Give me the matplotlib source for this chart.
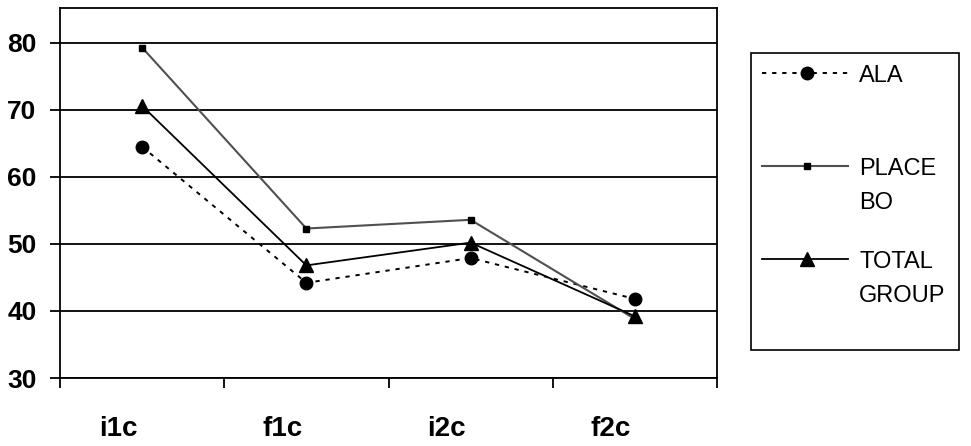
import matplotlib.pyplot as plt
import matplotlib.transforms as mtransforms
from matplotlib.lines import Line2D
from matplotlib.patches import Rectangle

# данные
categories = ["i1c", "f1c", "i2c", "f2c"]
ala = [64.5, 44.2, 47.9, 41.8]
placebo = [79.3, 52.3, 53.6, 38.8]
total = [70.6, 46.8, 50.2, 39.2]

plt.rcParams['font.family'] = ['Liberation Sans', 'DejaVu Sans']

fig = plt.figure(figsize=(9.71, 4.46), dpi=100)
ax = fig.add_axes([60 / 971, 1 - 378 / 446, 657 / 971, 370 / 446])

x = [i + 0.5 for i in range(len(categories))]

ala_style = dict(color="black", lw=1.4, ls=(0, (2.2, 3)), marker="o", ms=9)
placebo_style = dict(color="#505050", lw=1.5, marker="s", ms=5, mfc="black", mec="black")
total_style = dict(color="black", lw=1.3, marker="^", ms=10)

ax.plot(x, ala, zorder=3, **ala_style)
ax.plot(x, placebo, zorder=3, **placebo_style)
ax.plot(x, total, zorder=3, **total_style)

ax.set_xlim(0, 4)
ax.set_ylim(30, 85.2)
ax.set_yticks([30, 40, 50, 60, 70, 80])
ax.yaxis.grid(True, color="black", lw=1.3)
ax.set_axisbelow(True)

ax.set_xticks([0, 1, 2, 3, 4])
ax.set_xticklabels([])
ax.set_xticks(x, minor=True)
ax.set_xticklabels(categories, minor=True)
ax.tick_params(axis="x", which="major", length=7, width=1.3, direction="out")
ax.tick_params(axis="x", which="minor", length=0, pad=27, labelsize=20)
ax.tick_params(axis="y", length=7, width=1.3, direction="out", pad=10, labelsize=19)
shift = mtransforms.ScaledTranslation(-0.24, 0, fig.dpi_scale_trans)
for lab in ax.get_xticklabels(minor=True):
    lab.set_fontweight("bold")
    lab.set_transform(lab.get_transform() + shift)
for lab in ax.get_yticklabels():
    lab.set_fontweight("bold")

for s in ax.spines.values():
    s.set_linewidth(1.3)

# легенда вручную, как в Excel
W, H = 971, 446
def fx(px):
    return px / W
def fy(py):
    return 1 - py / H

fig.add_artist(Rectangle((fx(751), fy(350)), fx(959) - fx(751), fy(53) - fy(350),
                         transform=fig.transFigure, fill=False, ec="black", lw=1.2))

entries = [
    (73, ala_style, ["ALA"]),
    (166, placebo_style, ["PLACE", "BO"]),
    (259, total_style, ["TOTAL", "GROUP"]),
]
for py, style, lines in entries:
    fig.add_artist(Line2D([fx(762), fx(848)], [fy(py), fy(py)], transform=fig.transFigure,
                          markevery=[], **style))
    fig.add_artist(Line2D([fx(807)], [fy(py)], transform=fig.transFigure, **style))
    for k, line in enumerate(lines):
        fig.text(fx(859), fy(py + 8.5 + 34 * k), line, ha="left", va="baseline", fontsize=17)

fig.savefig("out.png", dpi=100)
